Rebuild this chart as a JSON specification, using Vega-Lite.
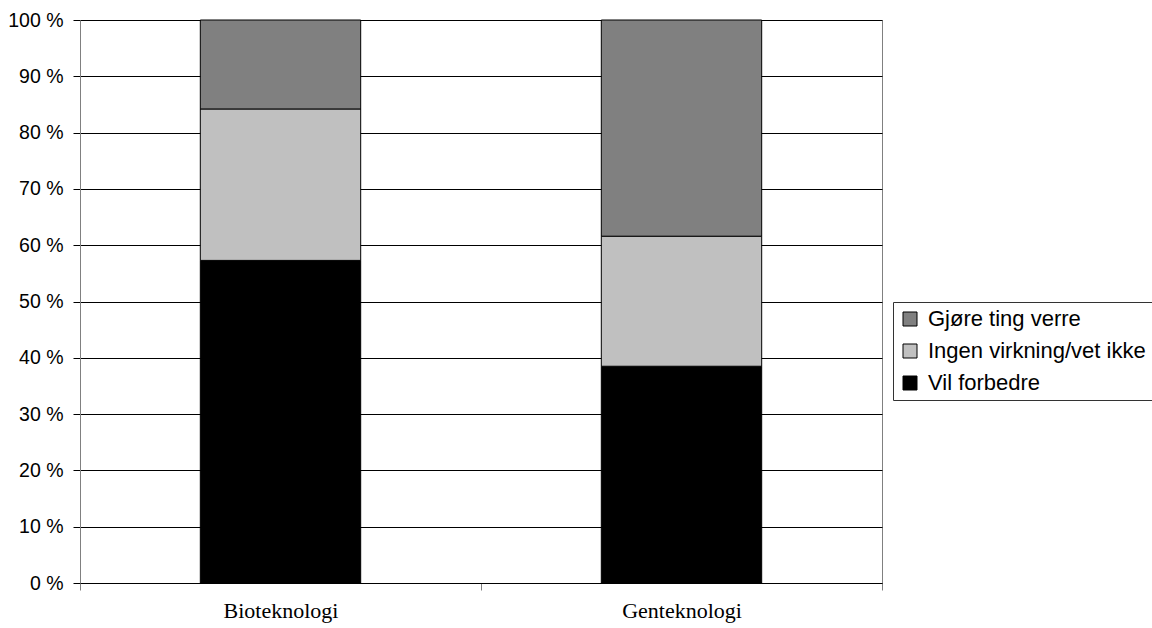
{
  "$schema": "https://vega.github.io/schema/vega-lite/v6.json",
  "autosize": {"type": "none"},
  "width": 802,
  "height": 563,
  "padding": {"left": 80, "top": 20, "right": 270, "bottom": 45},
  "background": "white",
  "config": {
    "view": {"stroke": "#808080", "strokeWidth": 1},
    "font": "Liberation Sans"
  },
  "data": {
    "values": [
      {"teknologi": "Bioteknologi", "kategori": "Vil forbedre", "andel": 57.3},
      {"teknologi": "Bioteknologi", "kategori": "Ingen virkning/vet ikke", "andel": 26.9},
      {"teknologi": "Bioteknologi", "kategori": "Gjøre ting verre", "andel": 15.8},
      {"teknologi": "Genteknologi", "kategori": "Vil forbedre", "andel": 38.5},
      {"teknologi": "Genteknologi", "kategori": "Ingen virkning/vet ikke", "andel": 23.1},
      {"teknologi": "Genteknologi", "kategori": "Gjøre ting verre", "andel": 38.4}
    ]
  },
  "mark": {"type": "bar", "width": {"band": 0.4}, "stroke": "black", "strokeWidth": 1},
  "encoding": {
    "x": {
      "field": "teknologi",
      "type": "nominal",
      "scale": {"paddingInner": 0, "paddingOuter": 0},
      "axis": {
        "title": null,
        "labelAngle": 0,
        "labelFont": "Liberation Serif",
        "labelFontSize": 22,
        "labelColor": "black",
        "labelPadding": 10,
        "tickBand": "extent",
        "tickSize": 7,
        "tickColor": "#808080",
        "domainColor": "black",
        "grid": false
      }
    },
    "y": {
      "field": "andel",
      "type": "quantitative",
      "stack": "zero",
      "scale": {"domain": [0, 100], "nice": false},
      "axis": {
        "title": null,
        "values": [0, 10, 20, 30, 40, 50, 60, 70, 80, 90, 100],
        "labelExpr": "datum.value + ' %'",
        "labelFont": "Liberation Sans",
        "labelFontSize": 19.5,
        "labelColor": "black",
        "labelPadding": 10,
        "tickSize": 7,
        "tickColor": "black",
        "domainColor": "#808080",
        "grid": true,
        "gridColor": "black",
        "gridOpacity": 1,
        "gridWidth": 1
      }
    },
    "color": {
      "field": "kategori",
      "type": "nominal",
      "scale": {
        "domain": ["Gjøre ting verre", "Ingen virkning/vet ikke", "Vil forbedre"],
        "range": ["#808080", "#c0c0c0", "#000000"]
      },
      "legend": {
        "title": null,
        "orient": "none",
        "legendX": 813,
        "legendY": 282,
        "symbolType": "square",
        "symbolSize": 196,
        "symbolStrokeColor": "black",
        "symbolStrokeWidth": 1,
        "symbolOpacity": 1,
        "labelFont": "Liberation Sans",
        "labelFontSize": 22,
        "labelColor": "black",
        "labelOffset": 7,
        "rowPadding": 10,
        "padding": 6,
        "strokeColor": "#333333",
        "fillColor": "white",
        "labelLimit": 400
      }
    },
    "order": {"field": "kategori", "sort": "descending"}
  }
}
